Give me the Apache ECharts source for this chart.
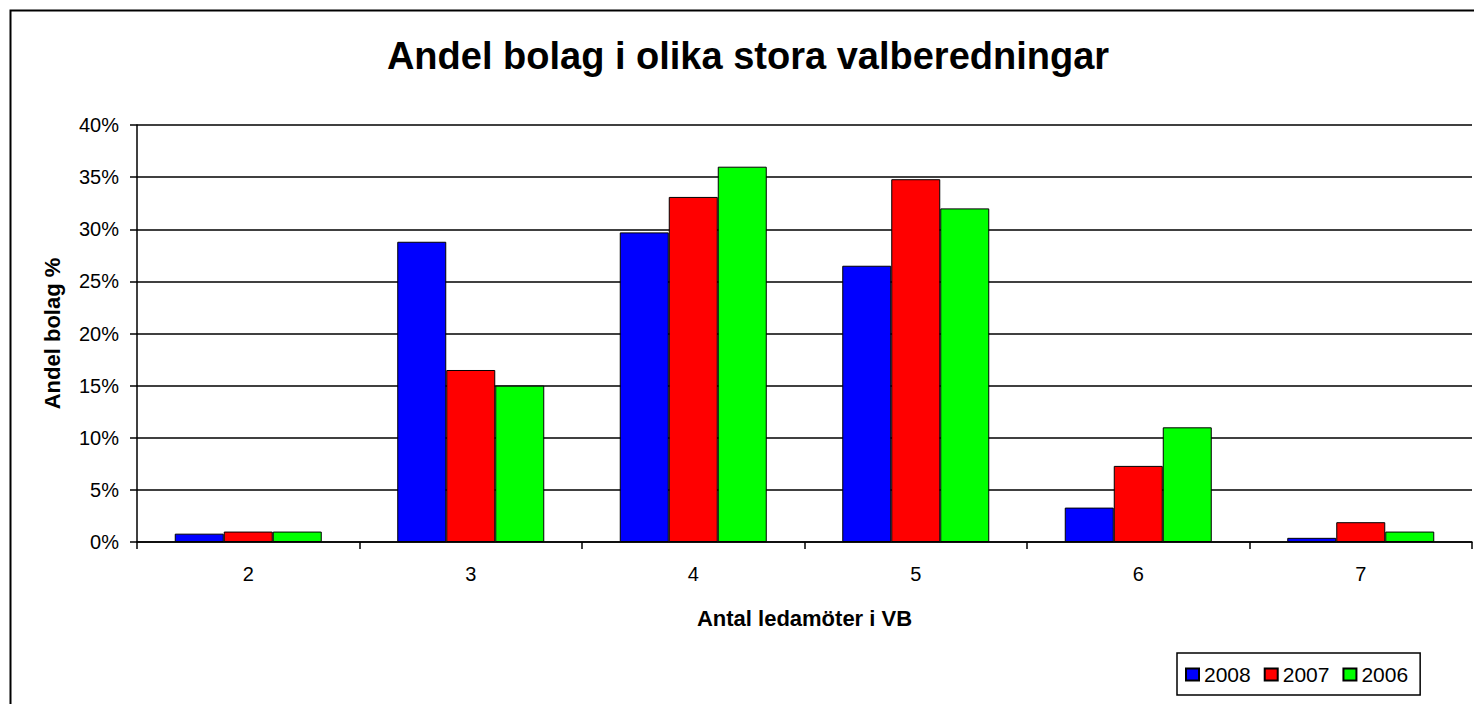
<!DOCTYPE html>
<html>
<head>
<meta charset="utf-8">
<script src="https://cdn.jsdelivr.net/npm/echarts@6/dist/echarts.min.js"></script>
<style>
html,body{margin:0;padding:0;background:#fff;}
#c{width:1474px;height:704px;}
</style>
</head>
<body>
<div id="c"></div>
<script>
var categories = ['2', '3', '4', '5', '6', '7'];
var seriesNames = ['2008', '2007', '2006'];
var values2008 = [0.8, 28.8, 29.7, 26.5, 3.3, 0.4];
var values2007 = [1.0, 16.5, 33.1, 34.8, 7.3, 1.9];
var values2006 = [1.0, 15.0, 36.0, 32.0, 11.0, 1.0];
var colors = ['#0000FF', '#FF0000', '#00FF00'];
var titleText = 'Andel bolag i olika stora valberedningar';
var xName = 'Antal ledamöter i VB';
var yName = 'Andel bolag %';

var FONT = '"Liberation Sans", Arial, sans-serif';
var chart = echarts.init(document.getElementById('c'), null, {renderer: 'svg'});

function mk(name, data, color) {
  return {
    name: name, type: 'bar', data: data, barWidth: 49, barGap: '0%',
    itemStyle: {color: color, borderColor: '#000', borderWidth: 1},
    emphasis: {disabled: true}
  };
}

chart.setOption({
  animation: false,
  textStyle: {fontFamily: FONT, color: '#000'},
  graphic: [
    {type: 'rect', shape: {x: 10.5, y: 10.5, width: 1480, height: 720}, style: {fill: 'none', stroke: '#000', lineWidth: 2}, z: -1},
    {type: 'text', x: 748, y: 56, style: {text: titleText, font: 'bold 38px ' + FONT, fill: '#000', textAlign: 'center', textVerticalAlign: 'middle'}}
  ],
  legend: {
    data: seriesNames, left: 1177, top: 653, orient: 'horizontal',
    borderColor: '#000', borderWidth: 1.5, padding: [11, 12, 10, 8],
    itemWidth: 13, itemHeight: 12, itemGap: 13, icon: 'rect',
    textStyle: {fontSize: 21, fontFamily: FONT, color: '#000', padding: [0, 0, 0, 0]}
  },
  grid: {left: 137, right: 2, top: 125, bottom: 162, containLabel: false},
  xAxis: {
    type: 'category', data: categories,
    name: xName, nameLocation: 'middle', nameGap: 65,
    nameTextStyle: {fontSize: 22, fontWeight: 'bold', fontFamily: FONT, color: '#000'},
    axisLine: {lineStyle: {color: '#000', width: 1.5}},
    axisTick: {show: true, length: 7, lineStyle: {color: '#000', width: 1.5}, alignWithLabel: false},
    axisLabel: {fontSize: 20, margin: 22, color: '#000', fontFamily: FONT},
    splitLine: {show: false}
  },
  yAxis: {
    type: 'value', min: 0, max: 40, interval: 5,
    name: yName, nameLocation: 'middle', nameGap: 74, nameRotate: 90,
    nameTextStyle: {fontSize: 22, fontWeight: 'bold', fontFamily: FONT, color: '#000'},
    axisLine: {show: true, lineStyle: {color: '#000', width: 1.5}},
    axisTick: {show: true, length: 7, lineStyle: {color: '#000', width: 1.5}},
    axisLabel: {fontSize: 20, margin: 18, color: '#000', fontFamily: FONT, formatter: '{value}%'},
    splitLine: {show: true, lineStyle: {color: '#000', width: 1.5}}
  },
  series: [
    mk(seriesNames[0], values2008, colors[0]),
    mk(seriesNames[1], values2007, colors[1]),
    mk(seriesNames[2], values2006, colors[2])
  ]
});
</script>
</body>
</html>
